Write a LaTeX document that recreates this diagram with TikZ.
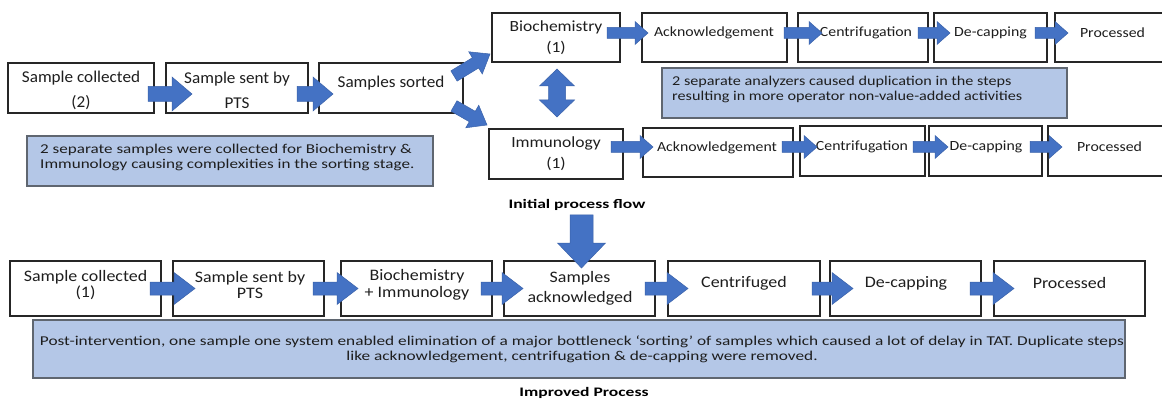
\documentclass[tikz,border=0pt]{standalone}
\usepackage{fontspec}
\setmainfont{Carlito}
\newfontfamily\tlf[FakeStretch=1.04]{Carlito}
\newfontfamily\trf[FakeStretch=1.13]{Carlito}
\newfontfamily\btf[FakeStretch=1.12]{Carlito}
\newfontfamily\naf[FakeStretch=1.265]{Carlito}
\newfontfamily\nbf[FakeStretch=1.20]{Carlito}
\newfontfamily\ncf[FakeStretch=1.28]{Carlito}
\newfontfamily\cpf[FakeStretch=1.35]{Carlito}
\usetikzlibrary{calc}
\definecolor{arrowblue}{HTML}{4472C4}
\definecolor{arrowedge}{HTML}{3A62AA}
\definecolor{notefill}{HTML}{B4C7E7}
\definecolor{noteedge}{HTML}{5F6670}
\definecolor{txtcol}{HTML}{1E1E1E}
% block arrow: tail, tip, body half width, head half width, head length
\newcommand{\blkarrow}[5]{%
  \coordinate (ba-a) at (#1);
  \coordinate (ba-b) at (#2);
  \coordinate (ba-h) at ($(ba-b)!#5pt!(ba-a)$);
  \fill[blockarrow] ($(ba-a)!#3pt!90:(ba-b)$) -- ($(ba-h)!#3pt!90:(ba-b)$) -- ($(ba-h)!#4pt!90:(ba-b)$) -- (ba-b)
     -- ($(ba-h)!#4pt!-90:(ba-b)$) -- ($(ba-h)!#3pt!-90:(ba-b)$) -- ($(ba-a)!#3pt!-90:(ba-b)$) -- cycle;}
% double-headed block arrow: tip, tip, body half, head half, head length
\newcommand{\dblarrow}[5]{%
  \coordinate (da-a) at (#1);
  \coordinate (da-b) at (#2);
  \coordinate (da-h1) at ($(da-a)!#5pt!(da-b)$);
  \coordinate (da-h2) at ($(da-b)!#5pt!(da-a)$);
  \fill[blockarrow] (da-a) -- ($(da-h1)!#4pt!90:(da-b)$) -- ($(da-h1)!#3pt!90:(da-b)$) -- ($(da-h2)!#3pt!-90:(da-a)$)
     -- ($(da-h2)!#4pt!-90:(da-a)$) -- (da-b) -- ($(da-h2)!#4pt!90:(da-a)$) -- ($(da-h2)!#3pt!90:(da-a)$)
     -- ($(da-h1)!#3pt!-90:(da-b)$) -- ($(da-h1)!#4pt!-90:(da-b)$) -- cycle;}
\begin{document}
\begin{tikzpicture}[x=1pt,y=-1pt,
  stepbox/.style={draw=black!85, line width=1.2pt, fill=white, inner sep=0pt, outer sep=0pt, anchor=north west},
  notebox/.style={draw=noteedge, line width=1.2pt, fill=notefill, inner sep=0pt, outer sep=0pt, anchor=north west},
  blockarrow/.style={fill=arrowblue, draw=arrowedge, line width=0.5pt, line join=miter},
  tltxt/.style={font=\tlf\fontsize{16.5}{25}\selectfont, align=center, inner sep=0pt, text=txtcol},
  trtxt/.style={font=\trf\fontsize{14}{20}\selectfont, align=center, inner sep=0pt, text=txtcol},
  tbtxt/.style={font=\trf\fontsize{15.5}{21}\selectfont, align=center, inner sep=0pt, text=txtcol},
  bttxt/.style={font=\btf\fontsize{16}{16.5}\selectfont, align=center, inner sep=0pt, text=txtcol},
  ntxt/.style={inner sep=0pt, text=txtcol},
  captxt/.style={font=\cpf\bfseries\fontsize{13}{15}\selectfont, inner sep=0pt, text=black}]
\useasboundingbox (0,0) rectangle (1162,401);
\fill[white] (0,0) rectangle (1162,401);

% ---------- initial process flow: left part ----------
\node[stepbox, minimum width=146pt, minimum height=50pt] (tl1) at (8,63) {};
\node[stepbox, minimum width=142pt, minimum height=50pt] (tl2) at (166,63) {};
\node[stepbox, minimum width=144pt, minimum height=50pt] (tl3) at (319,63) {};
\node[tltxt] (tl1t) at (81,90.5) {Sample collected\\(2)};
\node[tltxt] (tl2t) at (237,90.5) {Sample sent by\\PTS};
\node[tltxt] (tl3t) at (391,83) {Samples sorted};

\node[notebox, minimum width=406pt, minimum height=50pt] (n1) at (27,136) {};
\node[ntxt, font=\naf\fontsize{13.5}{15.3}\selectfont, align=left, anchor=west] (n1t) at (40,157.5) {2 separate samples were collected for Biochemistry \&\\Immunology causing complexities in the sorting stage.};

% ---------- initial process flow: two analyser rows ----------
\node[stepbox, minimum width=128pt, minimum height=49pt] (bio) at (492,13) {};
\node[stepbox, minimum width=145pt, minimum height=49pt] (ack1) at (642,13) {};
\node[stepbox, minimum width=130pt, minimum height=49pt] (cen1) at (798,13) {};
\node[stepbox, minimum width=113pt, minimum height=49pt] (dec1) at (934,13) {};
\node[stepbox, minimum width=112pt, minimum height=49pt] (pro1) at (1055,13) {};

\node[stepbox, minimum width=134pt, minimum height=50pt] (imm) at (489,129) {};
\node[stepbox, minimum width=150pt, minimum height=49pt] (ack2) at (643,128) {};
\node[stepbox, minimum width=125pt, minimum height=50pt] (cen2) at (800,126) {};
\node[stepbox, minimum width=113pt, minimum height=50pt] (dec2) at (929,126) {};
\node[stepbox, minimum width=119pt, minimum height=50pt] (pro2) at (1048,126) {};

\node[tbtxt] (biot) at (556,37.5) {Biochemistry\\(1)};
\node[trtxt] (ack1t) at (714,33) {Acknowledgement};
\node[trtxt] (cen1t) at (866,33) {Centrifugation};
\node[trtxt] (dec1t) at (990.5,33) {De-capping};
\node[trtxt] (pro1t) at (1112.5,33) {Processed};
\node[tbtxt] (immt) at (556,154) {Immunology\\(1)};
\node[trtxt] (ack2t) at (717,148) {Acknowledgement};
\node[trtxt] (cen2t) at (862,147) {Centrifugation};
\node[trtxt] (dec2t) at (986,147) {De-capping};
\node[trtxt] (pro2t) at (1109.5,147) {Processed};

\node[notebox, minimum width=405pt, minimum height=50pt] (n2) at (662,68) {};
\node[ntxt, font=\nbf\fontsize{13.5}{15.3}\selectfont, align=left, anchor=west] (n2t) at (672,89.5) {2 separate analyzers caused duplication in the steps\\resulting in more operator non-value-added activities};

\node[captxt] (cap1) at (577,205) {Initial process flow};

% ---------- improved process ----------
\node[stepbox, minimum width=151pt, minimum height=55pt] (b1) at (10,261) {};
\node[stepbox, minimum width=151pt, minimum height=55pt] (b2) at (173,261) {};
\node[stepbox, minimum width=151pt, minimum height=55pt] (b3) at (341,261) {};
\node[stepbox, minimum width=151pt, minimum height=55pt] (b4) at (504,261) {};
\node[stepbox, minimum width=152pt, minimum height=55pt] (b5) at (668,261) {};
\node[stepbox, minimum width=151pt, minimum height=55pt] (b6) at (830,261) {};
\node[stepbox, minimum width=151pt, minimum height=55pt] (b7) at (994,261) {};
\node[bttxt] (b1t) at (85.5,285) {Sample collected\\(1)};
\node[bttxt] (b2t) at (250,285) {Sample sent by\\PTS};
\node[bttxt] (b3t) at (417,285) {Biochemistry\\+ Immunology};
\node[bttxt, font=\btf\fontsize{16}{20}\selectfont] (b4t) at (580,288) {Samples\\acknowledged};
\node[bttxt] (b5t) at (744,283) {Centrifuged};
\node[bttxt] (b6t) at (906,283) {De-capping};
\node[bttxt] (b7t) at (1069.5,283) {Processed};

\node[notebox, minimum width=1092pt, minimum height=58pt] (n3) at (33,320) {};
\node[ntxt, font=\ncf\fontsize{13.5}{15.3}\selectfont, align=center] (n3t) at (582,349.5) {Post-intervention, one sample one system enabled elimination of a major bottleneck ‘sorting’ of samples which caused a lot of delay in TAT. Duplicate steps\\like acknowledgement, centrifugation \& de-capping were removed.};

\node[captxt] (cap2) at (584,393) {Improved Process};

% ---------- block arrows ----------
\blkarrow{[xshift=-6pt,yshift=-6pt]tl1.east}{[xshift=26pt,yshift=-6pt]tl2.west}{7.5}{17}{20}
\blkarrow{[xshift=-11pt,yshift=-6pt]tl2.east}{[xshift=14pt,yshift=-6pt]tl3.west}{7.5}{17}{20}
\blkarrow{[xshift=-9pt,yshift=12pt]tl3.east}{[xshift=-2pt,yshift=-16.5pt]bio.west}{6}{13}{17}
\blkarrow{[xshift=-9pt,yshift=-18pt]tl3.east}{[xshift=-2pt,yshift=29pt]imm.west}{6}{13}{17}
\dblarrow{[xshift=1pt,yshift=-7pt]bio.south}{[xshift=1pt,yshift=12pt]imm.north}{8.5}{17.5}{17}

\blkarrow{[xshift=-13pt,yshift=4.5pt]bio.east}{[xshift=6pt,yshift=4.5pt]ack1.west}{5.5}{11.5}{13}
\blkarrow{[xshift=-3pt,yshift=4.5pt]ack1.east}{[xshift=24pt,yshift=4.5pt]cen1.west}{5.5}{11.5}{13}
\blkarrow{[xshift=-10pt,yshift=4.5pt]cen1.east}{[xshift=16pt,yshift=4.5pt]dec1.west}{5.5}{11.5}{13}
\blkarrow{[xshift=-12pt,yshift=4.5pt]dec1.east}{[xshift=13pt,yshift=4.5pt]pro1.west}{5.5}{11.5}{13}

\blkarrow{[xshift=-12pt,yshift=7pt]imm.east}{[xshift=10pt,yshift=5.5pt]ack2.west}{5.5}{11.5}{13}
\blkarrow{[xshift=-11pt,yshift=5.5pt]ack2.east}{[xshift=17pt,yshift=4pt]cen2.west}{5.5}{11.5}{13}
\blkarrow{[xshift=-12pt,yshift=4pt]cen2.east}{[xshift=19pt,yshift=4pt]dec2.west}{5.5}{11.5}{13}
\blkarrow{[xshift=-12pt,yshift=4pt]dec2.east}{[xshift=14pt,yshift=4pt]pro2.west}{5.5}{11.5}{13}

\blkarrow{[xshift=4.5pt,yshift=-4pt]cap1.south}{[xshift=2pt,yshift=-7pt]b4.north}{11.5}{24}{25}

\blkarrow{[xshift=-11pt]b1.east}{[xshift=22pt]b2.west}{6.5}{16}{21}
\blkarrow{[xshift=-11pt]b2.east}{[xshift=17pt]b3.west}{6.5}{16}{21}
\blkarrow{[xshift=-11pt]b3.east}{[xshift=19pt]b4.west}{6.5}{16}{21}
\blkarrow{[xshift=-10pt]b4.east}{[xshift=20pt]b5.west}{6.5}{16}{21}
\blkarrow{[xshift=-8pt]b5.east}{[xshift=23pt]b6.west}{6.5}{16}{21}
\blkarrow{[xshift=-11pt]b6.east}{[xshift=20pt]b7.west}{6.5}{16}{21}
\end{tikzpicture}
\end{document}
